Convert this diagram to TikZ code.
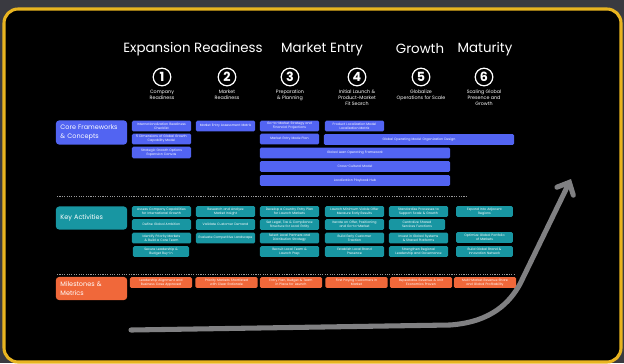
\documentclass[tikz,border=0pt]{standalone}
\usepackage{fontspec}
\setmainfont{Poppins}
\usepackage{xcolor}
\usetikzlibrary{arrows.meta}

\definecolor{pagegray}{RGB}{58,58,64}
\definecolor{framegold}{RGB}{232,180,32}
\definecolor{coreblue}{RGB}{82,100,242}
\definecolor{keyteal}{RGB}{24,150,162}
\definecolor{mileorange}{RGB}{240,104,58}
\definecolor{pathgray}{RGB}{128,128,130}

\tikzset{
  stagehead/.style={text=white, font=\fontsize{9.5}{11}\selectfont},
  stagenum/.style={circle, draw=white, line width=0.9pt, text=white, inner sep=0pt,
    minimum size=0.44cm, font=\bfseries\fontsize{9}{9}\selectfont},
  stagecap/.style={text=white, align=center, anchor=north, inner sep=0pt,
    font=\fontsize{3.4}{4.3}\selectfont},
  rowlabel/.style={rounded corners=2.5pt, minimum width=1.725cm, minimum height=0.58cm,
    text width=1.55cm, align=left, text=white, font=\fontsize{4.6}{6}\selectfont},
  cell/.style={rounded corners=1pt, minimum width=1.475cm, minimum height=0.27cm,
    text width=1.4cm, align=center, inner sep=0pt, text=white,
    font=\fontsize{2.3}{2.9}\selectfont},
  corecell/.style={cell, fill=coreblue},
  keycell/.style={cell, fill=keyteal},
  milecell/.style={cell, fill=mileorange, minimum width=1.55cm},
  widecell/.style={corecell, minimum width=4.75cm, text width=4.5cm},
  divider/.style={pathgray!80!white, line width=0.6pt, dash pattern=on 0.8pt off 0.9pt}
}

\begin{document}
\begin{tikzpicture}[x=0.025cm, y=-0.025cm]
    % page and frame
    \fill[pagegray] (0,0) rectangle (624,363);
    \useasboundingbox (0,0) rectangle (624,363);
    \filldraw[fill=black, draw=framegold, line width=2.2pt, rounded corners=10pt]
        (4,9) rectangle (621,362);

    % stage headings
    \node[stagehead] (hready)  at (193,49) {Expansion Readiness};
    \node[stagehead] (hentry)  at (322,49) {Market Entry};
    \node[stagehead] (hgrowth) at (420,49) {Growth};
    \node[stagehead] (hmature) at (485,49) {Maturity};

    % numbered stages
    \node[stagenum] (s1) at (162,77) {1};
    \node[stagenum] (s2) at (227,77) {2};
    \node[stagenum] (s3) at (290,77) {3};
    \node[stagenum] (s4) at (357,77) {4};
    \node[stagenum] (s5) at (421,77) {5};
    \node[stagenum] (s6) at (484,77) {6};
    \node[stagecap] at ([yshift=-2.5pt]s1.south) {Company\\Readiness};
    \node[stagecap] at ([yshift=-2.5pt]s2.south) {Market\\Readiness};
    \node[stagecap] at ([yshift=-2.5pt]s3.south) {Preparation\\\& Planning};
    \node[stagecap] at ([yshift=-2.5pt]s4.south) {Initial Launch \&\\Product-Market\\Fit Search};
    \node[stagecap] at ([yshift=-2.5pt]s5.south) {Globalize\\Operations for Scale};
    \node[stagecap] at ([yshift=-2.5pt]s6.south) {Scaling Global\\Presence and\\Growth};

    % core frameworks
    \node[rowlabel, fill=coreblue] (core) at (91.5,132.5) {Core Frameworks\\\& Concepts};
    \node[corecell] (core1a) at (161.5,126) {Internationalization Readiness\\Checklist};
    \node[corecell] (core1b) at (161.5,139) {5 Dimensions of Global Growth\\Capability Model};
    \node[corecell, minimum height=0.29cm] (core1c) at (161.5,152.5) {Strategic Growth Options\\Expansion Canvas};
    \node[corecell] (core2a) at (225.5,126) {Market Entry Assessment Matrix};
    \node[corecell] (core3a) at (289.5,126) {Go-to-Market Strategy and\\Financial Projections};
    \node[corecell] (core3b) at (289.5,139) {Market Entry Mode Plan};
    \node[corecell] (core4a) at (354.5,126) {Product Localization Model\\Localization Matrix};
    \node[widecell] (corew1) at (419,139.5) {Global Operating Model Organization Design};
    \node[widecell] (corew2) at (355,153) {Global Lean Operating Framework};
    \node[widecell] (corew3) at (355,166.5) {Cross-Cultural Model};
    \node[widecell] (corew4) at (355,180.5) {Localization Playbook Hub};

    \draw[divider] (57,196) -- (467,196);

    % key activities
    \node[rowlabel, fill=keyteal] (key) at (91.5,218) {Key Activities};
    \node[keycell] (key1a) at (161.5,211.5) {Assess Company Capabilities\\for International Growth};
    \node[keycell] (key1b) at (161.5,224.5) {Define Global Ambition};
    \node[keycell] (key1c) at (161.5,238) {Identify Priority Markets\\\& Build a Core Team};
    \node[keycell, minimum width=1.4cm] (key1d) at (161,251.5) {Secure Leadership \&\\Budget Buy-in};
    \node[keycell] (key2a) at (225.5,211.5) {Research and Analyze\\Market Insight};
    \node[keycell] (key2b) at (225.5,224.5) {Validate Customer Demand};
    \node[keycell] (key2c) at (225.5,238) {Evaluate Competitive Landscape};
    \node[keycell] (key3a) at (289.5,211.5) {Develop a Country Entry Plan\\for Launch Markets};
    \node[keycell] (key3b) at (289.5,224.5) {Set Legal, Tax \& Compliance\\Structure for Local Entity};
    \node[keycell] (key3c) at (289.5,238) {Select Local Partners and\\Distribution Strategy};
    \node[keycell] (key3d) at (289.5,251.5) {Recruit Local Team \&\\Launch Prep};
    \node[keycell] (key4a) at (354.5,211.5) {Launch Minimum Viable Offer\\Measure Early Results};
    \node[keycell] (key4b) at (354.5,224.5) {Iterate on Offer, Positioning\\and Go-to-Market};
    \node[keycell] (key4c) at (354.5,238) {Build Early Customer\\Traction};
    \node[keycell] (key4d) at (354.5,251.5) {Establish Local Brand\\Presence};
    \node[keycell] (key5a) at (418.5,211.5) {Standardize Processes to\\Support Scale \& Growth};
    \node[keycell, minimum width=1.4cm] (key5b) at (417,224.5) {Centralize Shared\\Services Functions};
    \node[keycell] (key5c) at (418.5,238) {Invest in Global Systems\\\& Shared Platforms};
    \node[keycell] (key5d) at (418.5,251.5) {Strengthen Regional\\Leadership and Governance};
    \node[keycell, minimum width=1.42cm] (key6a) at (484.5,211.5) {Expand Into Adjacent\\Regions};
    \node[keycell, minimum width=1.42cm] (key6c) at (484.5,237.5) {Optimize Global Portfolio\\of Markets};
    \node[keycell, minimum width=1.42cm] (key6d) at (484.5,251.5) {Build Global Brand \&\\Innovation Network};

    \draw[divider] (57,274) -- (515,274);

    % milestones and metrics
    \node[rowlabel, fill=mileorange] (mile) at (91.5,288.5) {Milestones \&\\Metrics};
    \node[milecell] (mile1) at (161,282.5) {Leadership Alignment and\\Business Case Approved};
    \node[milecell] (mile2) at (226.5,282.5) {Priority Markets Shortlisted\\with Clear Rationale};
    \node[milecell] (mile3) at (291,282.5) {Entry Plan, Budget \& Team\\in Place for Launch};
    \node[milecell] (mile4) at (356.5,282.5) {First Paying Customers in\\Market};
    \node[milecell] (mile5) at (421,282.5) {Repeatable Revenue \& Unit\\Economics Proven};
    \node[milecell] (mile6) at (485,282.5) {Multi-Market Revenue Share\\and Global Profitability};

    % growth path
    \coordinate (pstart) at (131,330);
    \coordinate (pturn) at (450,325);
    \coordinate (ptip) at (571,179);
    \draw[pathgray, line width=3.6pt, line cap=round, line join=round,
          -{Straight Barb[length=7pt, width=13pt, line cap=round]}]
        (pstart) -- (pturn) .. controls (492,322) and (510,302) .. (520,284) -- (ptip);
\end{tikzpicture}
\end{document}
